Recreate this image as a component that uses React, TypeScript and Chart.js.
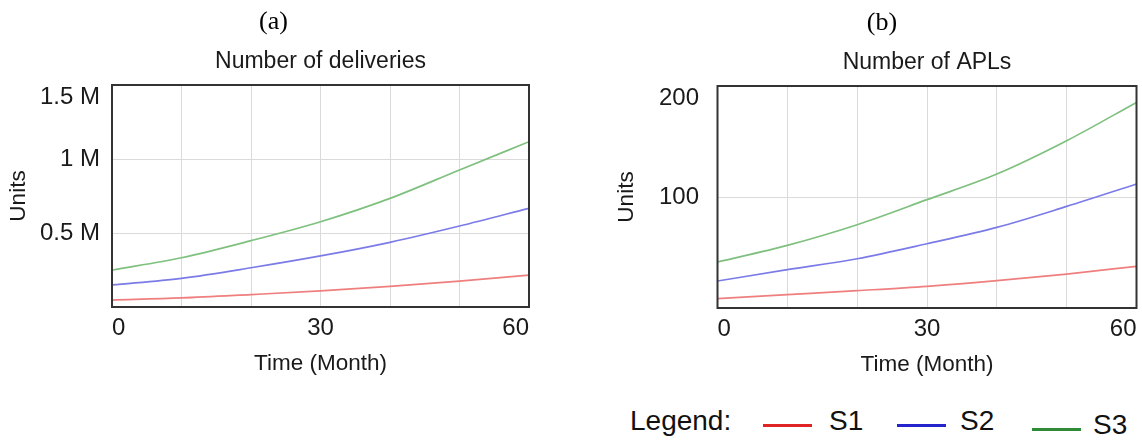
import React, { useEffect, useRef } from 'react';
import { Chart, registerables } from 'chart.js';

Chart.register(...registerables);

// ---- data ----
const months = [0, 10, 20, 30, 40, 50, 60];
const seriesNames = ['S1', 'S2', 'S3'];

const deliveriesS1 = [47000, 61000, 84000, 109000, 140000, 175000, 216000];
const deliveriesS2 = [149000, 194000, 265000, 345000, 437000, 547000, 667000];
const deliveriesS3 = [250000, 333000, 448000, 576000, 734000, 926000, 1117000];

const aplS1 = [8.4, 12, 15.6, 19.5, 24.6, 30.6, 37.5];
const aplS2 = [24.3, 34.5, 44.4, 57.9, 72.6, 91.5, 111.7];
const aplS3 = [41.4, 56.4, 75, 97.6, 120.7, 150.7, 185.2];

const xLabeledTicks = [0, 30, 60];
const deliveriesTickValues = [0, 500000, 1000000, 1500000];
const deliveriesTickLabels = ['', '0.5 M', '1 M', '1.5 M'];
const aplTickValues = [0, 100, 200];
const aplTickLabels = ['', '100', '200'];

// ---- styles ----
const SANS = "'Liberation Sans', Arial, Helvetica, sans-serif";
const SERIF = "'Liberation Serif', 'Times New Roman', serif";
const lineColors = ['#ef7f7f', '#7b7be8', '#7fc07f'];
const legendColors = ['#e02424', '#2424cc', '#2f8a36'];
const TEXT = '#1a1a1a';

const framePlugin = {
  id: 'frame',
  afterDatasetsDraw(chart: any) {
    const { ctx, chartArea } = chart;
    const { left, top, right, bottom } = chartArea;
    ctx.save();
    ctx.strokeStyle = '#333333';
    ctx.lineWidth = 2;
    ctx.strokeRect(left, top, right - left, bottom - top);
    ctx.restore();
  },
};

type Cfg = {
  letter: string;
  title: string;
  series: number[][];
  yMax: number;
  yStep: number;
  tickValues: number[];
  tickLabels: string[];
  yAxisWidth: number;
  yTitlePad: number;
  yTickPad: number;
  rightGap: number;
  topPad: number;
  bottomPad: number;
};

function makeConfig(c: Cfg): any {
  return {
    type: 'line',
    data: {
      datasets: c.series.map((vals, i) => ({
        label: seriesNames[i],
        data: months.map((m, j) => ({ x: m, y: vals[j] })),
        borderColor: lineColors[i],
        backgroundColor: lineColors[i],
        borderWidth: 1.7,
        pointRadius: 0,
        cubicInterpolationMode: 'monotone',
        fill: false,
      })),
    },
    options: {
      responsive: false,
      animation: false,
      events: [],
      layout: { padding: { left: 0, right: 0, top: c.topPad, bottom: c.bottomPad } },
      plugins: {
        legend: { display: false },
        tooltip: { enabled: false },
        title: {
          display: true,
          text: c.letter,
          color: '#000',
          font: { family: SERIF, size: 26, weight: 'normal', lineHeight: 1.2 },
          padding: { top: 7, bottom: 0 },
          fullSize: true,
        },
        subtitle: {
          display: true,
          text: c.title,
          color: TEXT,
          font: { family: SANS, size: 23, weight: 'normal', lineHeight: 1.2 },
          padding: { top: 10, bottom: 9.2 },
          fullSize: false,
        },
      },
      scales: {
        x: {
          type: 'linear',
          min: 0,
          max: 60,
          afterFit: (s: any) => {
            s.height = 70;
          },
          grid: { color: '#dadada', lineWidth: 1, drawTicks: false },
          border: { display: false },
          ticks: {
            stepSize: 10,
            autoSkip: false,
            maxRotation: 0,
            align: 'inner',
            padding: 7,
            color: TEXT,
            font: { family: SANS, size: 24, lineHeight: 1.2 },
            callback: (v: number) => (xLabeledTicks.includes(v) ? String(v) : ''),
          },
          title: {
            display: true,
            text: 'Time (Month)',
            color: TEXT,
            font: { family: SANS, size: 22.5, lineHeight: 1.2 },
            padding: { top: 0, bottom: 0 },
          },
        },
        y: {
          type: 'linear',
          position: 'left',
          min: 0,
          max: c.yMax,
          afterFit: (s: any) => {
            s.width = c.yAxisWidth;
          },
          grid: { color: '#dadada', lineWidth: 1, drawTicks: false },
          border: { display: false },
          ticks: {
            stepSize: c.yStep,
            autoSkip: false,
            padding: c.yTickPad,
            color: TEXT,
            font: { family: SANS, size: 24, lineHeight: 1 },
            callback: (v: number) => {
              const idx = c.tickValues.indexOf(v);
              const lab = idx >= 0 ? c.tickLabels[idx] : '';
              return v === c.yMax ? ['', lab] : lab;
            },
          },
          title: {
            display: true,
            text: 'Units',
            color: TEXT,
            font: { family: SANS, size: 22.5, lineHeight: 1 },
            padding: { top: c.yTitlePad, bottom: 0 },
          },
        },
        yRight: {
          type: 'linear',
          position: 'right',
          display: true,
          afterFit: (s: any) => {
            s.width = c.rightGap;
          },
          grid: { display: false, drawTicks: false },
          border: { display: false },
          ticks: { display: false },
        },
      },
    },
    plugins: [framePlugin],
  };
}

export default function App() {
  const refA = useRef<HTMLCanvasElement | null>(null);
  const refB = useRef<HTMLCanvasElement | null>(null);

  useEffect(() => {
    const a = new Chart(
      refA.current as HTMLCanvasElement,
      makeConfig({
        letter: '(a)',
        title: 'Number of deliveries',
        series: [deliveriesS1, deliveriesS2, deliveriesS3],
        yMax: 1500000,
        yStep: 500000,
        tickValues: deliveriesTickValues,
        tickLabels: deliveriesTickLabels,
        yAxisWidth: 112,
        yTitlePad: 8,
        yTickPad: 12,
        rightGap: 18,
        topPad: 0,
        bottomPad: 3,
      })
    );
    const b = new Chart(
      refB.current as HTMLCanvasElement,
      makeConfig({
        letter: '(b)',
        title: 'Number of APLs',
        series: [aplS1, aplS2, aplS3],
        yMax: 200,
        yStep: 100,
        tickValues: aplTickValues,
        tickLabels: aplTickLabels,
        yAxisWidth: 101.5,
        yTitlePad: 0,
        yTickPad: 18.5,
        rightGap: 11.5,
        topPad: 1,
        bottomPad: 2,
      })
    );
    return () => {
      a.destroy();
      b.destroy();
    };
  }, []);

  const legendText: React.CSSProperties = {
    position: 'absolute',
    fontFamily: SANS,
    fontSize: 28,
    lineHeight: '28px',
    color: '#111',
    whiteSpace: 'nowrap',
  };
  const legendItems = [
    { line: 763, text: 829, dy: 0 },
    { line: 897, text: 960, dy: 0 },
    { line: 1032, text: 1093, dy: 3.5 },
  ];

  return (
    <div
      style={{
        position: 'fixed',
        left: 0,
        top: 0,
        width: 1142,
        height: 443,
        overflow: 'hidden',
        background: '#fff',
      }}
    >
      <canvas
        ref={refA}
        width={547}
        height={380}
        style={{ position: 'absolute', left: 0, top: 0 }}
      />
      <canvas
        ref={refB}
        width={532}
        height={380}
        style={{ position: 'absolute', left: 616, top: 0 }}
      />
      <div style={{ ...legendText, left: 630, top: 407 }}>Legend:</div>
      {legendItems.map((it, i) => (
        <React.Fragment key={seriesNames[i]}>
          <div
            style={{
              position: 'absolute',
              left: it.line,
              top: 424 + it.dy,
              width: 49,
              height: 3,
              background: legendColors[i],
            }}
          />
          <div style={{ ...legendText, left: it.text, top: 407 + it.dy }}>{seriesNames[i]}</div>
        </React.Fragment>
      ))}
    </div>
  );
}
